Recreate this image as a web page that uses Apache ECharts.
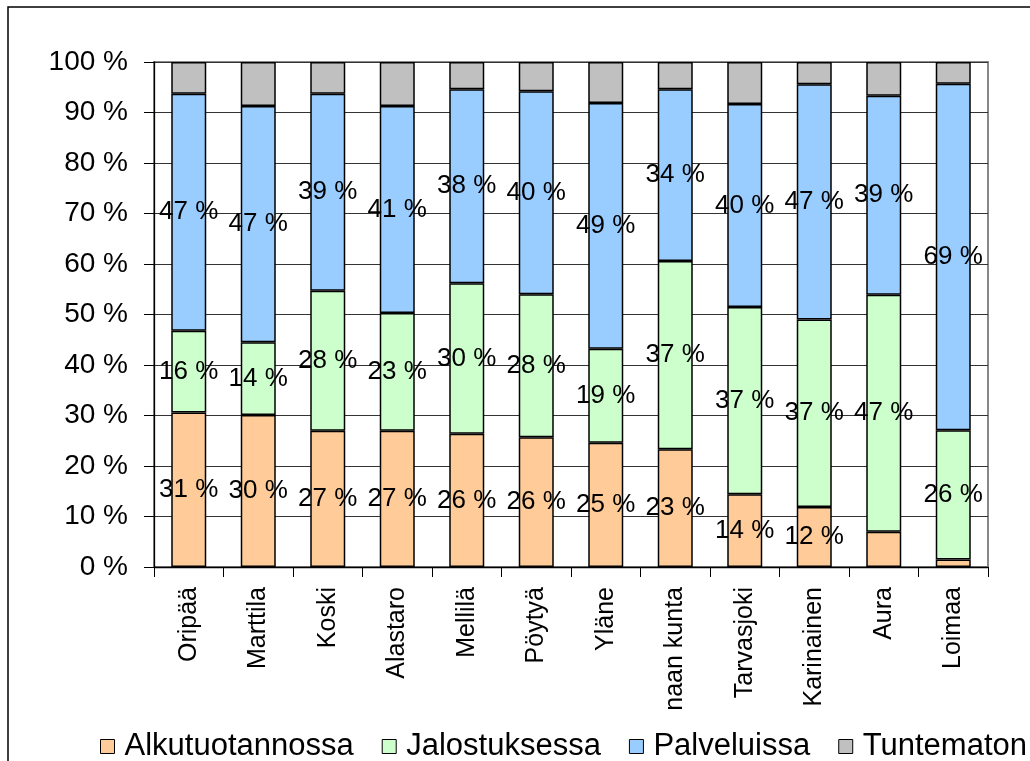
<!DOCTYPE html>
<html>
<head>
<meta charset="utf-8">
<script src="https://cdn.jsdelivr.net/npm/echarts@6/dist/echarts.min.js"></script>
<style>
  html, body { margin: 0; padding: 0; background: #fff; }
  #chart { width: 1030px; height: 761px; }
</style>
</head>
<body>
<div id="chart"></div>
<script>
const categories = ["Oripää", "Marttila", "Koski", "Alastaro", "Mellilä", "Pöytyä",
  "Yläne", "naan kunta", "Tarvasjoki", "Karinainen", "Aura", "Loimaa"];
const alkutuotannossa = [30.6, 30.1, 27.0, 27.0, 26.4, 25.7, 24.6, 23.3, 14.4, 11.9, 7.0, 1.5];
const jalostuksessa = [16.2, 14.4, 27.7, 23.3, 29.8, 28.3, 18.6, 37.3, 37.1, 37.1, 46.9, 25.6];
const palveluissa = [46.9, 46.8, 39.0, 41.0, 38.4, 40.2, 48.7, 34.0, 40.2, 46.6, 39.4, 68.6];
const tuntematon = [6.3, 8.7, 6.3, 8.7, 5.4, 5.8, 8.1, 5.4, 8.3, 4.4, 6.7, 4.3];
const yTicks = [0, 10, 20, 30, 40, 50, 60, 70, 80, 90, 100];

const font = "'Liberation Sans', Arial, sans-serif";

const chart = echarts.init(document.getElementById("chart"));

// labels only shown where the segment is big enough, like the original
const pctLabel = {
  show: true,
  position: "inside",
  color: "#000",
  fontFamily: font,
  fontSize: 26,
  formatter: (p) => (p.value >= 10 ? Math.round(p.value) + " %" : ""),
};

const makeSeries = (name, data, color, label) => ({
  name: name,
  type: "bar",
  stack: "total",
  barWidth: 35,
  data: data,
  itemStyle: { color: color, borderColor: "#000", borderWidth: 1.5 },
  label: label ? pctLabel : { show: false },
  emphasis: { disabled: true },
});

chart.setOption({
  animation: false,
  graphic: [
    {
      type: "rect",
      shape: { x: 8, y: 7, width: 1100, height: 1000 },
      style: { fill: "none", stroke: "#000", lineWidth: 1.5 },
      z: -1,
    },
  ],
  grid: {
    left: 154,
    top: 62,
    right: 42,
    bottom: 194,
    show: true,
    borderColor: "#888",
    borderWidth: 2,
  },
  legend: {
    left: 95,
    top: 726,
    width: 1000,
    itemWidth: 14,
    itemHeight: 14,
    itemGap: 28,
    icon: "rect",
    itemStyle: { borderColor: "#000", borderWidth: 1 },
    textStyle: {
      fontFamily: font,
      fontSize: 31,
      color: "#000",
      padding: [0, 0, 0, 5],
    },
    data: ["Alkutuotannossa", "Jalostuksessa", "Palveluissa", "Tuntematon"],
  },
  xAxis: {
    type: "category",
    data: categories,
    axisLine: { lineStyle: { color: "#000", width: 1.3 } },
    axisTick: { show: true, length: 10, lineStyle: { color: "#000" } },
    axisLabel: {
      rotate: 90,
      interval: 0,
      margin: 20,
      color: "#000",
      fontFamily: font,
      fontSize: 25,
    },
  },
  yAxis: {
    type: "value",
    min: yTicks[0],
    max: yTicks[yTicks.length - 1],
    interval: 10,
    axisLine: { show: true, lineStyle: { color: "#000", width: 1.3 } },
    axisTick: { show: true, length: 10, lineStyle: { color: "#000" } },
    axisLabel: {
      margin: 26,
      color: "#000",
      fontFamily: font,
      fontSize: 28,
      formatter: "{value} %",
    },
    splitLine: { show: true, lineStyle: { color: "#333", width: 1 } },
  },
  series: [
    makeSeries("Alkutuotannossa", alkutuotannossa, "#FFCC99", true),
    makeSeries("Jalostuksessa", jalostuksessa, "#CCFFCC", true),
    makeSeries("Palveluissa", palveluissa, "#99CCFF", true),
    makeSeries("Tuntematon", tuntematon, "#C0C0C0", false),
  ],
});
</script>
</body>
</html>
